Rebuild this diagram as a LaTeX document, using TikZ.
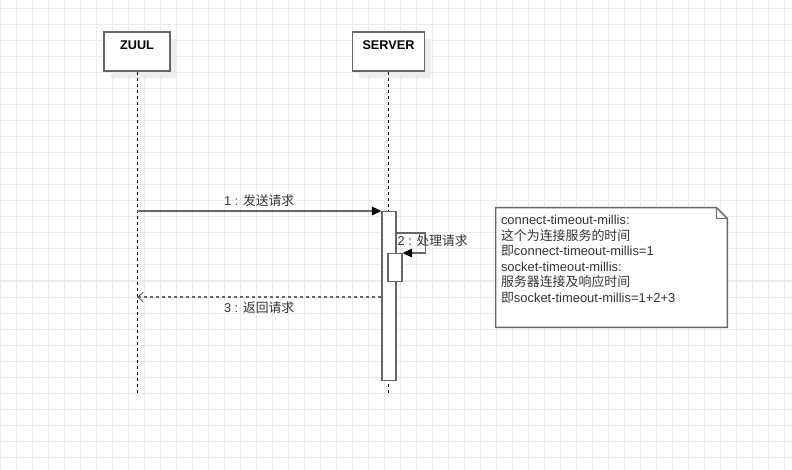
\documentclass[tikz,border=0pt]{standalone}
\usepackage{fontspec}
\setmainfont{Liberation Sans}
\newfontfamily\cjk{Noto Sans CJK SC}
\usetikzlibrary{arrows.meta, positioning, calc, shadows}
\definecolor{umlline}{HTML}{666666}
\definecolor{umlgrid}{HTML}{EBEBEB}
\definecolor{umltext}{HTML}{333333}
\definecolor{umlshadow}{HTML}{EDEDED}
\tikzset{
  head/.style={rectangle, draw=umlline, line width=1.1pt, fill=white, text=black,
               font=\fontsize{9.5}{11}\selectfont\bfseries, inner xsep=0pt, inner ysep=0pt,
               text height=13pt, text depth=16.25pt,
               drop shadow={shadow xshift=5pt, shadow yshift=-5pt, fill=umlshadow, opacity=1}},
  life/.style={draw=black, line width=0.75pt, dash pattern=on 2.25pt off 2.25pt},
  act/.style={rectangle, draw=umlline, line width=1.1pt, fill=white, minimum width=10.5pt, inner sep=0pt},
  msg/.style={draw=umlline, line width=0.8pt, -{Triangle[length=7pt, width=6.5pt, color=black]}},
  retmsg/.style={draw=umlline, line width=0.8pt, dash pattern=on 2.25pt off 2.25pt,
                 -{Straight Barb[length=4pt, width=7pt, color=umlline]}},
  lbl/.style={font=\fontsize{9.6}{11}\selectfont, text=umltext, inner sep=1pt},
  notebox/.style={rectangle, draw=none, inner sep=0pt, minimum width=173.25pt, minimum height=89.25pt},
  notetext/.style={font=\fontsize{9.7}{11.6}\selectfont, text=umltext, align=left, inner sep=0pt},
}
\begin{document}
\begin{tikzpicture}[x=0.75pt, y=-0.75pt]
  \fill[white] (0,0) rectangle (792,470);
  \useasboundingbox (0,0) rectangle (792,470);
  % background grid
  \foreach \gx in {0,16,...,784}
    \draw[umlgrid, line width=0.75pt] (\gx,0) -- (\gx,470);
  \foreach \gy in {9,25,...,457}
    \draw[umlgrid, line width=0.75pt] (0,\gy) -- (792,\gy);

  % lifelines
  \node[head, minimum width=49.5pt] (zuul) at (137,51.5) {ZUUL};
  \node[head, minimum width=54pt, right=135.75pt of zuul] (server) {SERVER};
  \coordinate (zuulend) at (137,393);
  \coordinate (serverend) at (server.south |- zuulend);
  \draw[life] (zuul.south) -- (zuulend);
  \draw[life] (server.south) -- (serverend);

  % activations
  \node[act, minimum height=126.75pt, anchor=north] (act1) at (389,211) {};
  \node[act, minimum height=21pt, anchor=north] (act2) at (395,253) {};

  % messages
  \draw[msg] (act1.north west -| zuul.south) -- node[lbl, above=2pt] (m1) {1 : {\cjk 发送请求}} (act1.north west);
  \draw[msg] ($(act1.north east)+(0,22)$) -- ++(29,0) |- (act2.north east);
  \node[lbl, anchor=west] (m2) at (396,241) {2 : {\cjk 处理请求}};
  \coordinate (back) at (act1.west |- 0,297);
  \draw[retmsg] (back) -- node[lbl, below=2pt] (m3) {3 : {\cjk 返回请求}} (back -| zuul.south);

  % note
  \node[notebox] (note) at (611.5,267.5) {};
  \draw[umlline, line width=1.1pt, fill=white] (note.north west) -- ([xshift=-8pt]note.north east)
    -- ([yshift=-8pt]note.north east) -- (note.south east) -- (note.south west) -- cycle;
  \draw[umlline, line width=0.8pt] ([xshift=-8pt]note.north east) -- ++(0pt,-8pt)
    -- ([yshift=-8pt]note.north east);
  \node[notetext, anchor=north west] (notetxt) at ([xshift=3.75pt, yshift=-5.5pt]note.north west)
    {connect-timeout-millis:\\
     {\cjk 这个为连接服务的时间}\\
     {\cjk 即}connect-timeout-millis=1\\
     socket-timeout-millis:\\
     {\cjk 服务器连接及响应时间}\\
     {\cjk 即}socket-timeout-millis=1+2+3};
\end{tikzpicture}
\end{document}
